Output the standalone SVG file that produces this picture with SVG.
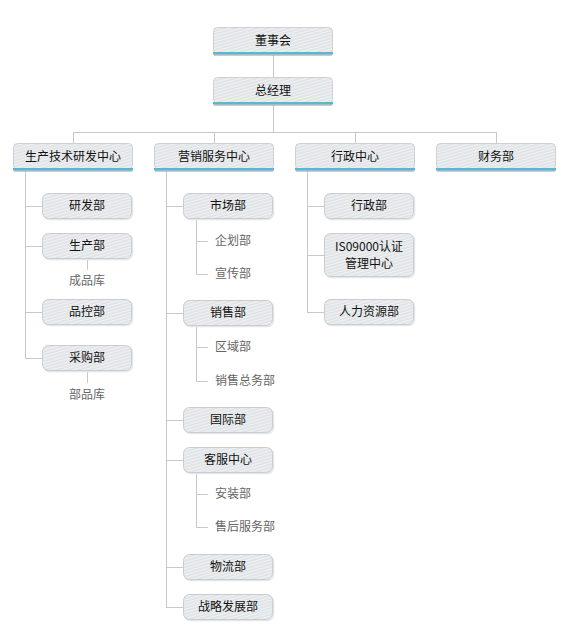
<svg xmlns="http://www.w3.org/2000/svg" width="570" height="640" viewBox="0 0 570 640">
<style>
text{font-family:"Noto Sans CJK SC","Liberation Sans",sans-serif;font-size:12px;fill:#111}
.c{text-anchor:middle}
.sub{fill:#666;font-size:12px}
.ln{stroke:#c8c8c8;stroke-width:1;fill:none}
.bx{fill:url(#stripe);stroke:#cdd1d5;stroke-width:1}
.bar{fill:#5cb6cf}
.sh{fill:#9a9a9a}
.sb{fill:url(#stripe);stroke:#c9cdd1;stroke-width:1}
.ss{fill:none;stroke:#e4e6e8;stroke-width:1.5}
</style>
<defs>
<pattern id="stripe" patternUnits="userSpaceOnUse" width="6" height="3" patternTransform="rotate(-16)">
<rect width="6" height="3" fill="#e0e3e6"/>
<rect width="6" height="1.3" fill="#eff1f2"/>
</pattern>
</defs>
<rect width="570" height="640" fill="#fff"/>
<g id="connectors">
<path class="ln" d="M273.5 55V77M273.5 105V132M73.5 132.5H496.5M73.5 132V143M214.5 132V143M355.5 132V143M496.5 132V143"/>
<path class="ln" d="M25.5 171V358.5M25 206.5H42M25 246.5H42M25 312.5H42M25 358.5H42M87.5 259V270M87.5 371V383"/>
<path class="ln" d="M166.5 171V607.5M166 206.5H183M166 313.5H183M166 420.5H183M166 460.5H183M166 567.5H183M166 607.5H183"/>
<path class="ln" d="M196.5 219V274.5M196 241.5H208M196 274.5H208M196.5 326V381.5M196 347.5H208M196 381.5H208M196.5 473V527.5M196 494.5H208M196 527.5H208"/>
<path class="ln" d="M307.5 171V312.5M307 206.5H324M307 255.5H324M307 312.5H324"/>
</g>
<g id="n-dongshihui"><rect class="bx" x="213.5" y="27.5" width="119" height="26" rx="4"/><rect class="bar" x="213" y="52" width="120" height="2.5"/><rect class="sh" x="214" y="54.5" width="118" height="1"/><text class="c" x="273" y="45">董事会</text></g>
<g id="n-zongjingli"><rect class="bx" x="213.5" y="77.5" width="119" height="26" rx="4"/><rect class="bar" x="213" y="102" width="120" height="2.5"/><rect class="sh" x="214" y="104.5" width="118" height="1"/><text class="c" x="273" y="95">总经理</text></g>
<g id="n-shengchanjishu"><rect class="bx" x="13.5" y="143.5" width="119" height="26" rx="4"/><rect class="bar" x="13" y="168" width="120" height="2.5"/><rect class="sh" x="14" y="170.5" width="118" height="1"/><text class="c" x="73" y="161">生产技术研发中心</text></g>
<g id="n-yingxiao"><rect class="bx" x="154.5" y="143.5" width="119" height="26" rx="4"/><rect class="bar" x="154" y="168" width="120" height="2.5"/><rect class="sh" x="155" y="170.5" width="118" height="1"/><text class="c" x="214" y="161">营销服务中心</text></g>
<g id="n-xingzhengzhongxin"><rect class="bx" x="295.5" y="143.5" width="119" height="26" rx="4"/><rect class="bar" x="295" y="168" width="120" height="2.5"/><rect class="sh" x="296" y="170.5" width="118" height="1"/><text class="c" x="355" y="161">行政中心</text></g>
<g id="n-caiwu"><rect class="bx" x="436.5" y="143.5" width="119" height="26" rx="4"/><rect class="bar" x="436" y="168" width="120" height="2.5"/><rect class="sh" x="437" y="170.5" width="118" height="1"/><text class="c" x="496" y="161">财务部</text></g>

<g id="n-yanfa"><rect class="ss" x="43.5" y="194.5" width="89" height="25" rx="6"/><rect class="sb" x="42.5" y="193.5" width="89" height="25" rx="6"/><text class="c" x="87" y="210">研发部</text></g>
<g id="n-shengchan"><rect class="ss" x="43.5" y="234.5" width="89" height="25" rx="6"/><rect class="sb" x="42.5" y="233.5" width="89" height="25" rx="6"/><text class="c" x="87" y="250">生产部</text></g>
<text id="t-chengpinku" class="c sub" x="87" y="285">成品库</text>
<g id="n-pinkong"><rect class="ss" x="43.5" y="300.5" width="89" height="25" rx="6"/><rect class="sb" x="42.5" y="299.5" width="89" height="25" rx="6"/><text class="c" x="87" y="316">品控部</text></g>
<g id="n-caigou"><rect class="ss" x="43.5" y="346.5" width="89" height="25" rx="6"/><rect class="sb" x="42.5" y="345.5" width="89" height="25" rx="6"/><text class="c" x="87" y="362">采购部</text></g>
<text id="t-bupinku" class="c sub" x="87" y="399">部品库</text>

<g id="n-shichang"><rect class="ss" x="184.5" y="194.5" width="89" height="25" rx="6"/><rect class="sb" x="183.5" y="193.5" width="89" height="25" rx="6"/><text class="c" x="228" y="210">市场部</text></g>
<text id="t-qihua" class="sub" x="215" y="245">企划部</text>
<text id="t-xuanchuan" class="sub" x="215" y="278">宣传部</text>
<g id="n-xiaoshou"><rect class="ss" x="184.5" y="301.5" width="89" height="25" rx="6"/><rect class="sb" x="183.5" y="300.5" width="89" height="25" rx="6"/><text class="c" x="228" y="317">销售部</text></g>
<text id="t-quyu" class="sub" x="215" y="351">区域部</text>
<text id="t-xiaoshouzongwu" class="sub" x="215" y="385">销售总务部</text>
<g id="n-guoji"><rect class="ss" x="184.5" y="408.5" width="89" height="25" rx="6"/><rect class="sb" x="183.5" y="407.5" width="89" height="25" rx="6"/><text class="c" x="228" y="424">国际部</text></g>
<g id="n-kefu"><rect class="ss" x="184.5" y="448.5" width="89" height="25" rx="6"/><rect class="sb" x="183.5" y="447.5" width="89" height="25" rx="6"/><text class="c" x="228" y="464">客服中心</text></g>
<text id="t-anzhuang" class="sub" x="215" y="498">安装部</text>
<text id="t-shouhou" class="sub" x="215" y="531">售后服务部</text>
<g id="n-wuliu"><rect class="ss" x="184.5" y="555.5" width="89" height="25" rx="6"/><rect class="sb" x="183.5" y="554.5" width="89" height="25" rx="6"/><text class="c" x="228" y="571">物流部</text></g>
<g id="n-zhanlue"><rect class="ss" x="184.5" y="595.5" width="89" height="25" rx="6"/><rect class="sb" x="183.5" y="594.5" width="89" height="25" rx="6"/><text class="c" x="228" y="611">战略发展部</text></g>

<g id="n-xingzhengbu"><rect class="ss" x="325.5" y="194.5" width="89" height="25" rx="6"/><rect class="sb" x="324.5" y="193.5" width="89" height="25" rx="6"/><text class="c" x="369" y="210">行政部</text></g>
<g id="n-iso"><rect class="ss" x="325.5" y="234.5" width="89" height="43" rx="6"/><rect class="sb" x="324.5" y="233.5" width="89" height="43" rx="6"/><text class="c" x="369" y="251">IS09000认证</text><text class="c" x="369" y="268">管理中心</text></g>
<g id="n-renli"><rect class="ss" x="325.5" y="300.5" width="89" height="25" rx="6"/><rect class="sb" x="324.5" y="299.5" width="89" height="25" rx="6"/><text class="c" x="369" y="316">人力资源部</text></g>
</svg>
